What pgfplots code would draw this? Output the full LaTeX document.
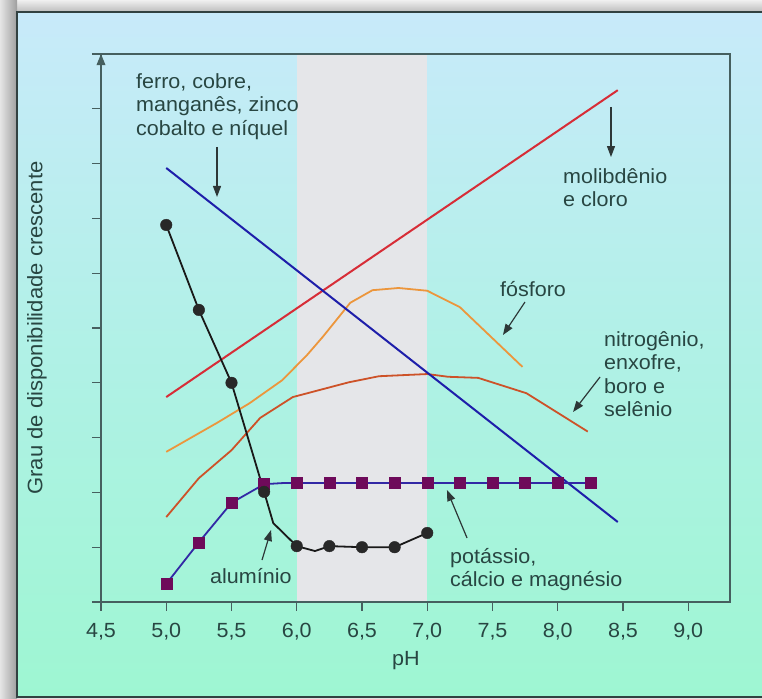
\documentclass[border=0pt]{standalone}
\usepackage{fontspec}
\setmainfont{Liberation Sans}[FakeStretch=1.05]
\usepackage{pgfplots}
\pgfplotsset{compat=1.18}
\usetikzlibrary{arrows.meta}

\definecolor{textcol}{RGB}{40,70,66}
\definecolor{axiscol}{RGB}{70,95,95}
\definecolor{arrcol}{RGB}{45,55,55}
\definecolor{framecol}{RGB}{50,65,65}
\definecolor{bgtop}{RGB}{200,234,250}
\definecolor{bgmid}{RGB}{176,241,230}
\definecolor{bgbot}{RGB}{158,246,210}
\definecolor{bandcol}{RGB}{229,230,233}
\definecolor{feblue}{RGB}{30,30,170}
\definecolor{mored}{RGB}{215,45,55}
\definecolor{porange}{RGB}{236,150,60}
\definecolor{nbrown}{RGB}{205,82,40}
\definecolor{kline}{RGB}{50,40,165}
\definecolor{kmark}{RGB}{110,10,90}
\definecolor{almark}{RGB}{40,40,40}

\newcommand\lbl{\fontsize{20.5bp}{23.5bp}\selectfont}

\begin{document}
\begin{tikzpicture}[
    ann/.style={anchor=north west, inner sep=0pt, align=left, font=\lbl, text=textcol},
    arr/.style={draw=arrcol, line width=1.2bp, -{Triangle[width=8bp,length=11bp]}}
]
% page, shadow and panel
\useasboundingbox (0bp,0bp) rectangle (762bp,-699bp);
\fill[black!12] (0bp,0bp) rectangle (762bp,-699bp);
\shade[top color=black!6, bottom color=black!28] (0bp,0bp) rectangle (762bp,-13bp);
\shade[left color=black!10, right color=black!38] (0bp,0bp) rectangle (17bp,-699bp);
\shade[top color=bgtop, bottom color=bgbot, middle color=bgmid] (17bp,-12bp) rectangle (775bp,-697bp);
\draw[framecol, line width=2bp] (17bp,-12bp) rectangle (775bp,-697bp);

\begin{axis}[
    at={(101bp,-602bp)}, anchor=south west,
    scale only axis, width=629bp, height=548bp,
    xmin=4.5, xmax=9.32, ymin=0, ymax=10,
    clip=false, axis on top,
    axis line style={draw=axiscol, line width=1.3bp},
    xtick={4.5,5,...,9},
    xticklabels={{4,5},{5,0},{5,5},{6,0},{6,5},{7,0},{7,5},{8,0},{8,5},{9,0}},
    ytick={1,...,9}, yticklabels={},
    xtick pos=bottom, ytick pos=left, tick align=outside,
    major tick length=8.5bp,
    tick style={draw=axiscol, line width=1.3bp},
    xticklabel style={anchor=base, yshift=-27bp, font=\lbl, text=textcol},
]
% faixa de pH 6-7
\addplot[fill=bandcol, draw=none] coordinates {(6,10) (7,10)} \closedcycle;

% nitrogênio, enxofre, boro e selênio
\addplot[nbrown, line width=1.8bp] coordinates {
    (5.0,1.55) (5.25,2.26) (5.5,2.77) (5.72,3.36) (5.97,3.74) (6.40,4.01)
    (6.63,4.12) (7.0,4.16) (7.16,4.11) (7.39,4.09) (7.76,3.81) (8.23,3.11)};
% fósforo
\addplot[porange, line width=1.8bp] coordinates {
    (5.0,2.74) (5.39,3.27) (5.64,3.63) (5.89,4.05) (6.08,4.51) (6.20,4.84)
    (6.41,5.46) (6.58,5.69) (6.78,5.73) (7.0,5.68) (7.25,5.38) (7.73,4.29)};
% molibdênio e cloro
\addplot[mored, line width=2bp] coordinates {(5.0,3.74) (8.46,9.34)};
% ferro, cobre, manganês, zinco, cobalto e níquel
\addplot[feblue, line width=2bp] coordinates {(5.0,7.92) (8.46,1.46)};

% potássio, cálcio e magnésio
\addplot[kline, line width=1.8bp] coordinates {
    (5.0,0.33) (5.25,1.09) (5.5,1.81) (5.75,2.15) (5.89,2.17) (6.0,2.17) (8.25,2.17)};
\addplot[only marks, mark=square*, mark size=5.5bp, mark options={fill=kmark, draw=kmark}]
    coordinates {
    (5.0,0.33) (5.25,1.09) (5.5,1.81) (5.75,2.15) (6.0,2.17) (6.25,2.17) (6.5,2.17)
    (6.75,2.17) (7.0,2.17) (7.25,2.17) (7.5,2.17) (7.75,2.17) (8.0,2.17) (8.25,2.17)};

% alumínio
\addplot[black!90, line width=1.8bp] coordinates {
    (5.0,6.88) (5.25,5.33) (5.5,4.0) (5.75,2.01) (5.82,1.44) (6.0,1.02)
    (6.14,0.93) (6.25,1.02) (6.5,1.0) (6.75,1.0) (7.0,1.26)};
\addplot[only marks, mark=*, mark size=5.8bp, mark options={fill=almark, draw=almark}]
    coordinates {
    (5.0,6.88) (5.25,5.33) (5.5,4.0) (5.75,2.01) (6.0,1.02)
    (6.25,1.02) (6.5,1.0) (6.75,1.0) (7.0,1.26)};

% axis extras
\draw[axiscol, line width=1.3bp] ([xshift=-9bp]rel axis cs:0,1) -- (rel axis cs:0,1);
\draw[axiscol, line width=1.3bp] ([xshift=-9bp]rel axis cs:0,0) -- (rel axis cs:0,0);
\fill[axiscol] (rel axis cs:0,1) -- ([xshift=-4.5bp,yshift=-11bp]rel axis cs:0,1)
    -- ([xshift=4.5bp,yshift=-11bp]rel axis cs:0,1) -- cycle;

% labels
\node[rotate=90, font=\fontsize{21bp}{24bp}\selectfont, text=textcol]
    at ([xshift=-64bp]rel axis cs:0,0.5) {Grau de disponibilidade crescente};
\node[font=\lbl, text=textcol] at ([yshift=-59bp]axis cs:6.837,0) {pH};

% annotations
\node[ann] at (axis cs:4.768,9.653) {ferro, cobre,\\manganês, zinco\\cobalto e níquel};
\draw[arr] (axis cs:5.389,8.303) -- (axis cs:5.389,7.391);

\node[ann] at (axis cs:8.040,7.920) {molibdênio\\e cloro};
\draw[arr] (axis cs:8.408,9.033) -- (axis cs:8.408,8.120);

\node[ann] at (axis cs:7.557,5.858) {fósforo};
\draw[arr] (axis cs:7.749,5.474) -- (axis cs:7.580,4.872);

\node[ann] at (axis cs:8.354,4.945) {nitrogênio,\\enxofre,\\boro e\\selênio};
\draw[arr] (axis cs:8.324,4.106) -- (axis cs:8.117,3.467);

\node[ann] at (axis cs:7.174,0.985) {potássio,\\cálcio e magnésio};
\draw[arr] (axis cs:7.305,1.168) -- (axis cs:7.151,2.044);

\node[ann] at (axis cs:5.335,0.620) {alumínio};
\draw[arr] (axis cs:5.734,0.766) -- (axis cs:5.803,1.314);
\end{axis}
\end{tikzpicture}
\end{document}
